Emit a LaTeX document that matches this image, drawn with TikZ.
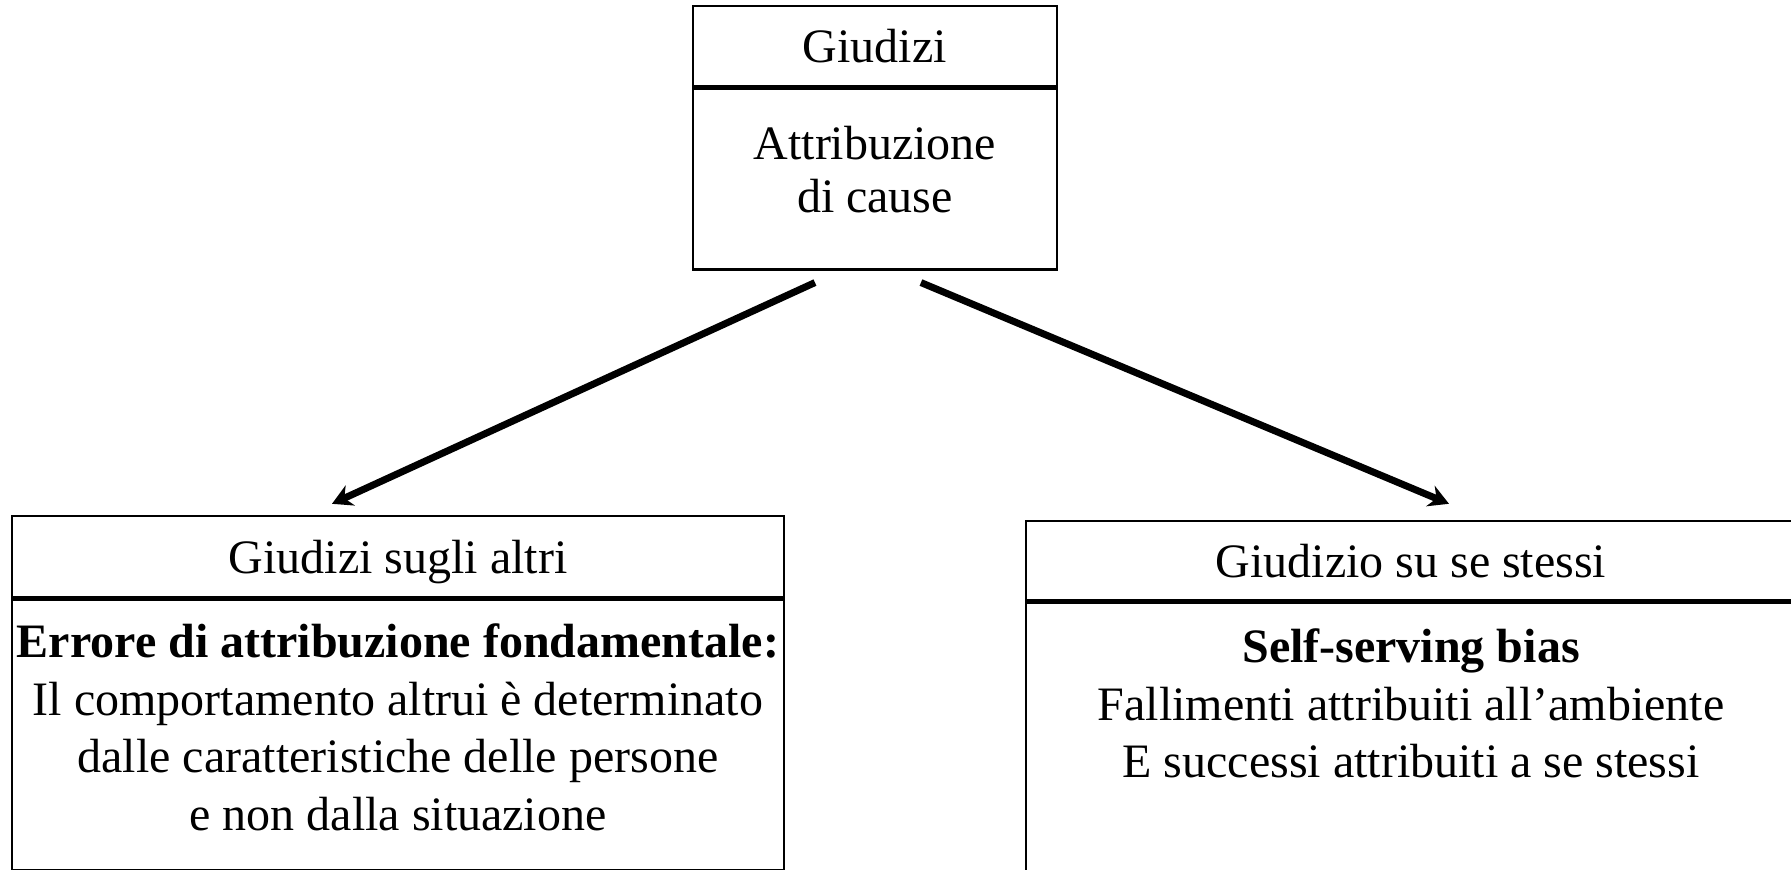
\documentclass[tikz,border=0pt]{standalone}
\usepackage{fontspec}
\setmainfont{Liberation Serif}
\usetikzlibrary{arrows.meta,positioning}

\begin{document}
\begin{tikzpicture}[->,>={Stealth[length=5pt,width=5.5pt]},line width=1.75pt,node distance=0pt]
  \tikzstyle{cell}=[draw,line width=0.6pt,rectangle,inner sep=0pt,font=\fontsize{12pt}{14.4pt}\selectfont,text depth=0pt]
  \tikzstyle{txt}=[align=center,inner sep=0pt,anchor=north,font=\fontsize{12pt}{14.4pt}\selectfont]

  \useasboundingbox (0,0) rectangle (15.737,-7.644);

  \node[cell,minimum width=91pt,minimum height=20pt] (giud) at (7.688,-0.404) {Giudizi};
  \node[cell,minimum width=91pt,minimum height=45.25pt,below=of giud] (attr) {};
  \node[txt,font=\fontsize{12pt}{13.25pt}\selectfont] (attrtxt) at ([yshift=-9pt]attr.north) {Attribuzione\\di cause};

  \node[cell,minimum width=193pt,minimum height=20.25pt] (altri) at (3.497,-4.890) {Giudizi sugli altri};
  \node[cell,minimum width=193pt,minimum height=67.75pt,below=of altri] (errore) {};
  \node[txt] (erroretxt) at ([yshift=-5.5pt]errore.north) {\textbf{Errore di attribuzione fondamentale:}\\Il comportamento altrui è determinato\\dalle caratteristiche delle persone\\e non dalla situazione};

  \node[cell,minimum width=192.5pt,minimum height=19.75pt] (se) at (12.398,-4.925) {Giudizio su se stessi};
  \node[cell,minimum width=192.5pt,minimum height=75pt,below=of se] (self) {};
  \node[txt] (selftxt) at ([yshift=-6pt]self.north) {\textbf{Self-serving bias}\\Fallimenti attribuiti all’ambiente\\E successi attribuiti a se stessi};

  \draw ([shift={(-15pt,-3pt)}]attr.south) -- ([shift={(-16.5pt,2.75pt)}]altri.north);
  \draw ([shift={(11.5pt,-3pt)}]attr.south) -- ([shift={(9.5pt,4pt)}]se.north);
\end{tikzpicture}
\end{document}
